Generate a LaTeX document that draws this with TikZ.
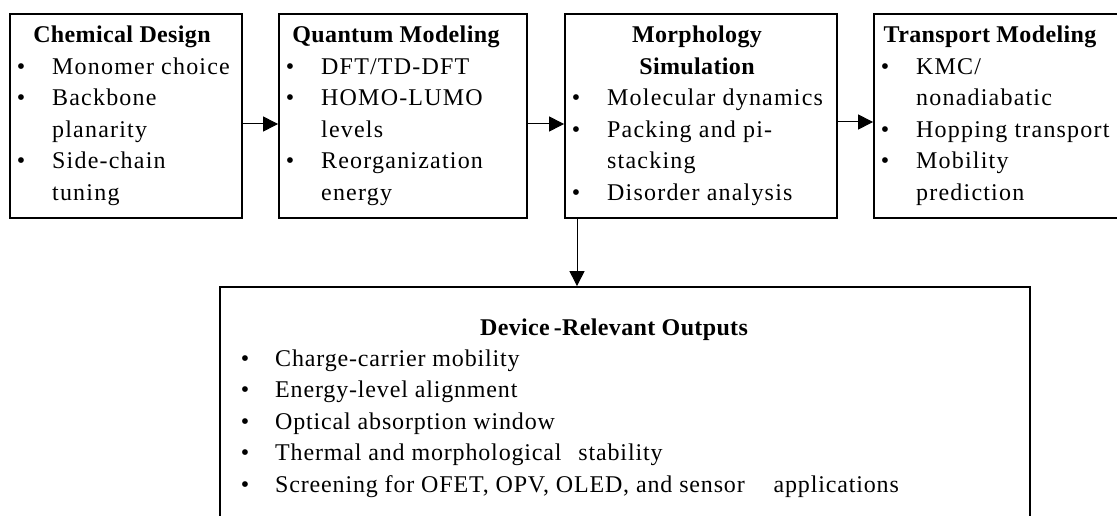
\documentclass[tikz,border=0pt]{standalone}
\usepackage{fontspec}
\setmainfont{Liberation Serif}
\newfontfamily\topfont{Liberation Serif}[LetterSpace=5]
\newfontfamily\botfont{Liberation Serif}[LetterSpace=3.5]
\newfontfamily\ttlfont{Liberation Serif}[LetterSpace=1.5]
\usetikzlibrary{arrows.meta}
\begin{document}
\begin{tikzpicture}[x=1pt,y=-1pt,
  box/.style={draw,line width=1.8pt,inner sep=0pt},
  ttl/.style={anchor=base,inner sep=0pt,font=\ttlfont\bfseries\fontsize{24}{28}\selectfont},
  bul/.style={anchor=base,inner sep=0pt,font=\topfont\fontsize{24}{28}\selectfont},
  itm/.style={anchor=base west,inner sep=0pt,font=\topfont\fontsize{24}{28}\selectfont},
  bitm/.style={anchor=base west,inner sep=0pt,font=\botfont\fontsize{24}{28}\selectfont},
  arr/.style={line width=1pt,-{Triangle[length=15pt,width=15pt]}}]
\useasboundingbox (0,0) rectangle (1117,516);
\clip (0,0) rectangle (1117,516);
% boxes
\node[box,minimum width=232pt,minimum height=204pt] (b1) at (126,116) {};
\node[box,minimum width=248pt,minimum height=204pt] (b2) at (403,116) {};
\node[box,minimum width=272pt,minimum height=204pt] (b3) at (701,116) {};
\node[box,minimum width=245pt,minimum height=204pt] (b4) at (996.5,116) {};
\node[box,minimum width=810pt,minimum height=253pt] (out) at (625,413.5) {};
% connectors
\draw[arr] ([yshift=-8pt]b1.east) -- ([yshift=-8pt]b2.west);
\draw[arr] ([yshift=-8pt]b2.east) -- ([yshift=-8pt]b3.west);
\draw[arr] ([yshift=-6pt]b3.east) -- ([yshift=-6pt]b4.west);
\draw[arr] ([xshift=-124pt]b3.south) -- ([xshift=-124pt]b3.south |- out.north);
% box 1
\node[ttl] (t1) at (122,43) {Chemical Design};
\node[bul] (b1u1) at (21,74.5) {•};
\node[itm] (b1i1) at (52,74.5) {Monomer choice};
\node[bul] (b1u2) at (21,106) {•};
\node[itm] (b1i2) at (52,106) {Backbone};
\node[itm] (b1i2b) at (52,137.5) {planarity};
\node[bul] (b1u3) at (21,169) {•};
\node[itm] (b1i3) at (52,169) {Side-chain};
\node[itm] (b1i3b) at (52,200.5) {tuning};
% box 2
\node[ttl] (t2) at (396,43) {Quantum Modeling};
\node[bul] (b2u1) at (290,74.5) {•};
\node[itm] (b2i1) at (321,74.5) {DFT/TD-DFT};
\node[bul] (b2u2) at (290,106) {•};
\node[itm] (b2i2) at (321,106) {HOMO-LUMO};
\node[itm] (b2i2b) at (321,137.5) {levels};
\node[bul] (b2u3) at (290,169) {•};
\node[itm] (b2i3) at (321,169) {Reorganization};
\node[itm] (b2i3b) at (321,200.5) {energy};
% box 3
\node[ttl] (t3a) at (697,43) {Morphology};
\node[ttl] (t3b) at (697,74.5) {Simulation};
\node[bul] (b3u1) at (576,106) {•};
\node[itm] (b3i1) at (607,106) {Molecular dynamics};
\node[bul] (b3u2) at (576,137.5) {•};
\node[itm] (b3i2) at (607,137.5) {Packing and pi-};
\node[itm] (b3i2b) at (607,169) {stacking};
\node[bul] (b3u3) at (576,200.5) {•};
\node[itm] (b3i3) at (607,200.5) {Disorder analysis};
% box 4
\node[ttl] (t4) at (990,43) {Transport Modeling};
\node[bul] (b4u1) at (885,74.5) {•};
\node[itm] (b4i1) at (916,74.5) {KMC/};
\node[itm] (b4i1b) at (916,106) {nonadiabatic};
\node[bul] (b4u2) at (885,137.5) {•};
\node[itm] (b4i2) at (916,137.5) {Hopping transport};
\node[bul] (b4u3) at (885,169) {•};
\node[itm] (b4i3) at (916,169) {Mobility};
\node[itm] (b4i3b) at (916,200.5) {prediction};
% outputs
\node[ttl] (t5) at (614,335) {Device\,-Relevant Outputs};
\node[bul] (o1u) at (245,366) {•};
\node[bitm] (o1) at (275,366) {Charge-carrier mobility};
\node[bul] (o2u) at (245,397.5) {•};
\node[bitm] (o2) at (275,397.5) {Energy-level alignment};
\node[bul] (o3u) at (245,429) {•};
\node[bitm] (o3) at (275,429) {Optical absorption window};
\node[bul] (o4u) at (245,460.5) {•};
\node[bitm] (o4) at (275,460.5) {Thermal and morphological\hspace{10pt} stability};
\node[bul] (o5u) at (245,492) {•};
\node[bitm] (o5) at (275,492) {Screening for OFET, OPV, OLED, and sensor\hspace{22pt} applications};
\end{tikzpicture}
\end{document}
